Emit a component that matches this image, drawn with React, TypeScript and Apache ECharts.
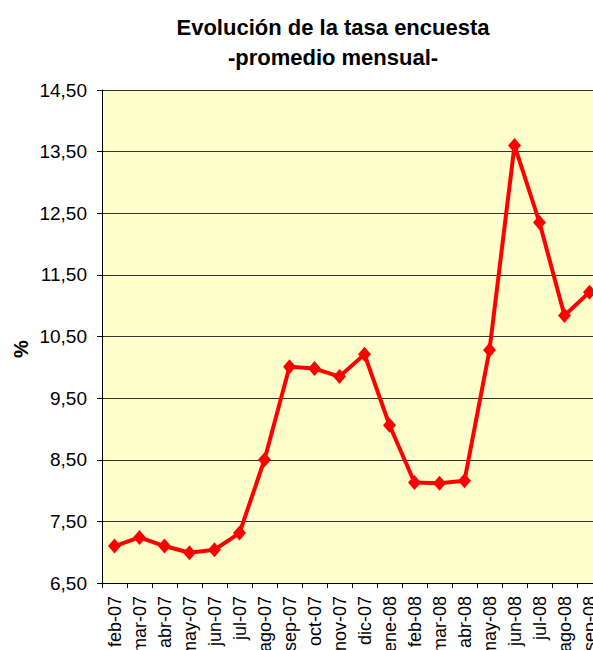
import React, { useEffect, useRef } from "react";
import * as echarts from "echarts";

const categories = [
  "feb-07", "mar-07", "abr-07", "may-07", "jun-07", "jul-07", "ago-07", "sep-07",
  "oct-07", "nov-07", "dic-07", "ene-08", "feb-08", "mar-08", "abr-08", "may-08",
  "jun-08", "jul-08", "ago-08", "sep-08",
];
const tasa = [
  7.1, 7.24, 7.1, 6.99, 7.04, 7.31, 8.5, 10.01, 9.98, 9.85, 10.21, 9.06, 8.13,
  8.12, 8.16, 10.28, 13.6, 12.35, 10.84, 11.22,
];
const yMin = 6.5;
const yMax = 14.5;
const yStep = 1;
const titleLines = ["Evolución de la tasa encuesta", "-promedio mensual-"];
const yName = "%";

const FONT = "'Liberation Sans', Arial, sans-serif";

export default function App() {
  const ref = useRef<HTMLDivElement>(null);
  useEffect(() => {
    if (!ref.current) return;
    const chart = echarts.init(ref.current, undefined, { renderer: "svg" });
    chart.setOption({
      animation: false,
      backgroundColor: "#ffffff",
      textStyle: { fontFamily: FONT },
      graphic: [
        {
          type: "text",
          x: 333,
          y: 27,
          style: {
            text: titleLines[0],
            font: `bold 22px ${FONT}`,
            fill: "#000",
            textAlign: "center",
            textVerticalAlign: "middle",
          },
        },
        {
          type: "text",
          x: 333,
          y: 57,
          style: {
            text: titleLines[1],
            font: `bold 22px ${FONT}`,
            fill: "#000",
            textAlign: "center",
            textVerticalAlign: "middle",
          },
        },
        {
          type: "text",
          x: 21,
          y: 349,
          rotation: Math.PI / 2,
          style: {
            text: yName,
            font: `bold 20px ${FONT}`,
            fill: "#000",
            textAlign: "center",
            textVerticalAlign: "middle",
          },
        },
      ],
      grid: {
        left: 102,
        top: 90,
        width: 500,
        height: 493,
        show: true,
        backgroundColor: "#FFFFCC",
        borderWidth: 0,
        containLabel: false,
        outerBoundsMode: "none",
      },
      xAxis: {
        type: "category",
        data: categories,
        boundaryGap: true,
        axisLine: { show: true, lineStyle: { color: "#000", width: 1 } },
        axisTick: { show: true, length: 5, lineStyle: { color: "#000" } },
        axisLabel: {
          rotate: 90,
          interval: 0,
          margin: 13,
          color: "#000",
          fontSize: 18,
          fontFamily: FONT,
        },
        splitLine: { show: false },
      },
      yAxis: {
        type: "value",
        min: yMin,
        max: yMax,
        interval: yStep,
        axisLine: { show: true, lineStyle: { color: "#000", width: 1 } },
        axisTick: { show: true, length: 5, lineStyle: { color: "#000" } },
        axisLabel: {
          margin: 15,
          color: "#000",
          fontSize: 19,
          fontFamily: FONT,
          formatter: (v: number) => v.toFixed(2).replace(".", ","),
        },
        splitLine: { show: true, lineStyle: { color: "#333", width: 1 } },
      },
      series: [
        {
          type: "line",
          data: tasa,
          symbol: "diamond",
          symbolSize: [13, 15],
          lineStyle: { color: "#FF0000", width: 4 },
          itemStyle: { color: "#FF0000" },
          clip: false,
        },
      ],
    });
    return () => chart.dispose();
  }, []);
  return (
    <div
      style={{
        position: "fixed",
        left: 0,
        top: 0,
        width: 593,
        height: 650,
        overflow: "hidden",
        background: "#fff",
      }}
    >
      <div ref={ref} style={{ width: 620, height: 650 }} />
    </div>
  );
}
